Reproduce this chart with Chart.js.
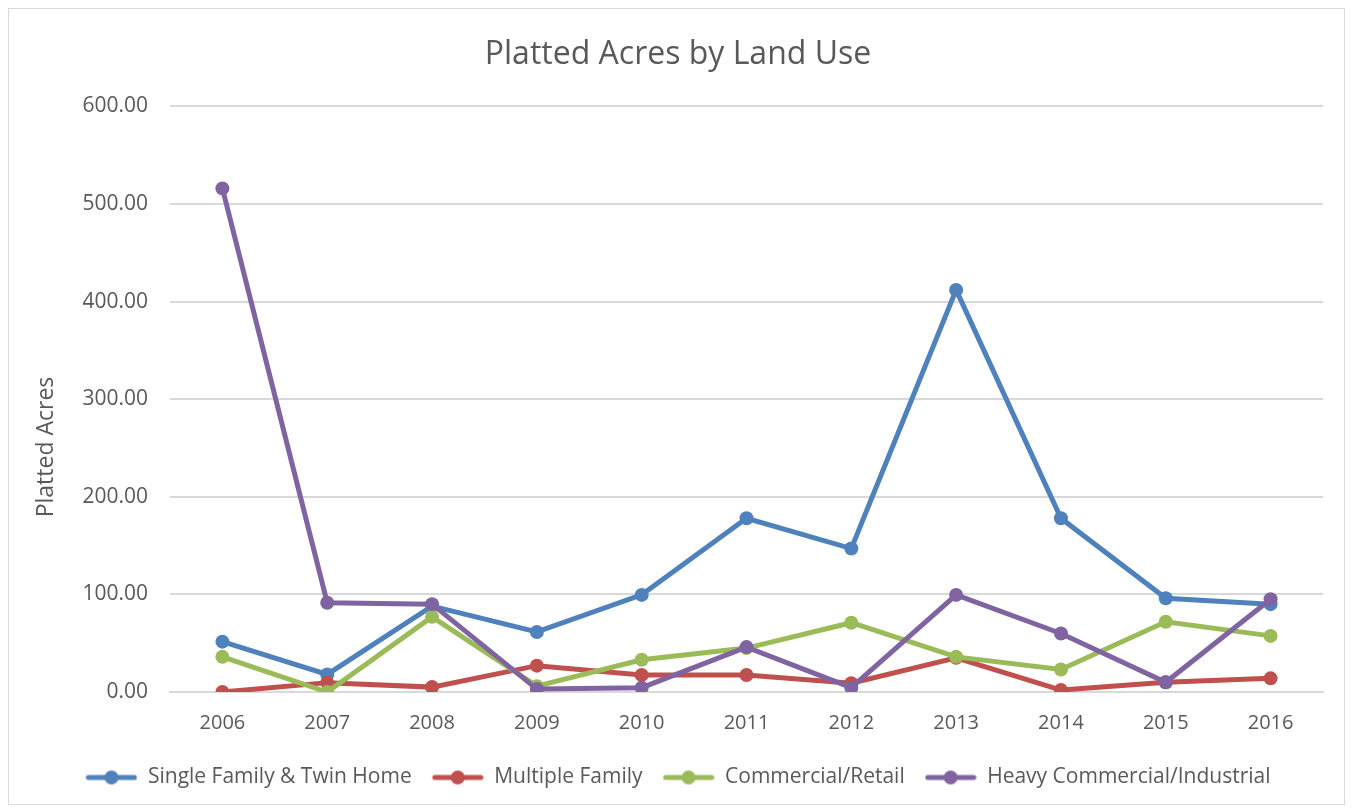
<!DOCTYPE html>
<html>
<head>
<meta charset="utf-8">
<script src="https://cdn.jsdelivr.net/npm/chart.js@4.4.1/dist/chart.umd.min.js"></script>
<style>
  html, body { margin: 0; padding: 0; background: #fff; }
  #box {
    position: absolute; left: 8px; top: 8px;
    width: 1335px; height: 795px;
    border: 1px solid #d9d9d9;
  }
</style>
</head>
<body>
<div id="box"><canvas id="chart" width="1335" height="795"></canvas></div>
<script>
// Valores
const years = ['2006', '2007', '2008', '2009', '2010', '2011', '2012', '2013', '2014', '2015', '2016'];
const singleFamily = [51.6, 18, 88, 61.5, 99.5, 178, 147, 412, 178, 96, 90];
const multipleFamily = [0, 9.6, 5, 27, 17.4, 17.4, 9, 35, 2, 10, 14];
const commercialRetail = [36, 0, 77, 6, 33, 45, 71, 36, 23, 72, 57.5];
const heavyCommercial = [516, 91.5, 90, 3, 4.4, 46, 4.4, 99.5, 60, 10, 95];
const seriesNames = ['Single Family & Twin Home', 'Multiple Family', 'Commercial/Retail', 'Heavy Commercial/Industrial'];

const colors = ['#4F81BD', '#C0504D', '#9BBB59', '#8064A2'];
const textColor = '#595959';
const gridColor = '#d9d9d9';
const fontFamily = "'Open Sans', 'Liberation Sans', sans-serif";

// ícone da legenda: linha com marcador
function legendIcon(color) {
    const c = document.createElement('canvas');
    c.width = 52;
    c.height = 16;
    const ctx = c.getContext('2d');
    ctx.strokeStyle = color;
    ctx.lineWidth = 5;
    ctx.lineCap = 'round';
    ctx.beginPath();
    ctx.moveTo(3, 8);
    ctx.lineTo(49, 8);
    ctx.stroke();
    ctx.fillStyle = color;
    ctx.beginPath();
    ctx.arc(26, 8, 7, 0, Math.PI * 2);
    ctx.fill();
    return c;
}

const seriesData = [singleFamily, multipleFamily, commercialRetail, heavyCommercial];

const datasets = seriesData.map((d, i) => ({
    label: seriesNames[i],
    data: d,
    borderColor: colors[i],
    backgroundColor: colors[i],
    borderWidth: 5,
    pointRadius: 7,
    pointHoverRadius: 7,
    pointBorderWidth: 0,
    tension: 0,
    order: 3 - i   // roxo desenhado por cima, como no original
}));

new Chart(document.getElementById('chart'), {
    type: 'line',
    data: { labels: years, datasets: datasets },
    options: {
        responsive: false,
        animation: false,
        layout: { padding: { left: 24, right: 21, top: 0, bottom: 6 } },
        scales: {
            x: {
                offset: true,
                grid: { display: false },
                border: { display: true, color: gridColor, width: 2 },
                ticks: { color: textColor, font: { family: fontFamily, size: 20 }, padding: 11 },
                afterFit: (scale) => { scale.height = 55; }
            },
            y: {
                min: 0,
                max: 600,
                ticks: {
                    stepSize: 100,
                    color: textColor,
                    padding: 22,
                    font: { family: fontFamily, size: 21 },
                    callback: (v) => v.toFixed(2)
                },
                grid: { color: gridColor, lineWidth: 2, drawTicks: false },
                border: { display: false },
                title: {
                    display: true,
                    // espaços no fim empurram o título para baixo, como no Excel
                    text: 'Platted Acres                ',
                    color: textColor,
                    font: { family: fontFamily, size: 23 },
                    padding: { top: 0, bottom: 0 }
                },
                afterFit: (scale) => { scale.width = 137; }
            }
        },
        plugins: {
            title: {
                display: true,
                text: 'Platted Acres by Land Use',
                color: textColor,
                font: { family: fontFamily, size: 32, weight: 'normal' },
                padding: { top: 27, bottom: 32 }
            },
            legend: {
                position: 'bottom',
                labels: {
                    color: textColor,
                    font: { family: fontFamily, size: 21 },
                    usePointStyle: true,
                    pointStyleWidth: 52,
                    padding: 20,
                    generateLabels: (chart) => chart.data.datasets.map((ds, i) => ({
                        text: ds.label,
                        fillStyle: ds.backgroundColor,
                        strokeStyle: ds.borderColor,
                        fontColor: textColor,
                        pointStyle: legendIcon(ds.borderColor),
                        lineWidth: 0,
                        hidden: false,
                        datasetIndex: i
                    }))
                }
            },
            tooltip: { enabled: false }
        }
    }
});
</script>
</body>
</html>
